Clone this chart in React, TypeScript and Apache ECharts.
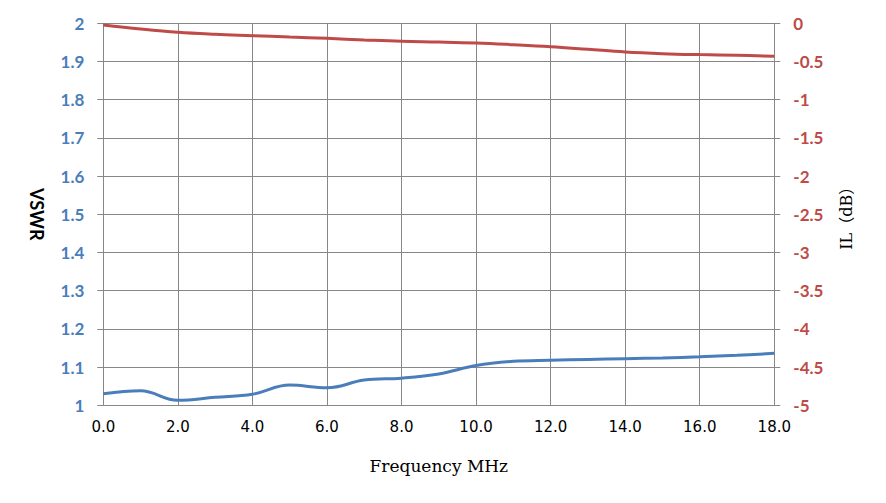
import React, { useEffect, useRef } from "react";
import * as echarts from "echarts";

const freq = [0, 1, 2, 3, 4, 5, 6, 7, 8, 9, 10, 11, 12, 13, 14, 15, 16, 17, 18];
const vswr = [1.03, 1.038, 1.013, 1.021, 1.029, 1.053, 1.046, 1.066, 1.071, 1.082, 1.104, 1.115, 1.118, 1.12, 1.122, 1.124, 1.127, 1.131, 1.136];
const il = [-0.022, -0.075, -0.118, -0.144, -0.162, -0.18, -0.197, -0.218, -0.236, -0.245, -0.258, -0.28, -0.306, -0.34, -0.375, -0.397, -0.41, -0.419, -0.432];

const BLUE = "#4A7EBB";
const RED = "#BE4B48";
const GRID = "#878787";

export default function App() {
  const ref = useRef<HTMLDivElement>(null);
  useEffect(() => {
    if (!ref.current) return;
    const chart = echarts.init(ref.current, null, { renderer: "svg" });
    chart.setOption({
      animation: false,
      backgroundColor: "#ffffff",
      grid: { left: 103.3, right: 111.7, top: 23.3, bottom: 97.7 },
      xAxis: {
        type: "value",
        min: 0,
        max: 18,
        interval: 2,
        name: "Frequency MHz",
        nameLocation: "middle",
        nameGap: 52,
        nameTextStyle: { fontFamily: "DejaVu Serif", fontSize: 17, color: "#000" },
        axisLine: { show: true, lineStyle: { color: GRID, width: 1 } },
        axisTick: { show: true, inside: false, length: 5, lineStyle: { color: GRID } },
        axisLabel: {
          margin: 14,
          fontFamily: "DejaVu Sans",
          fontSize: 15,
          color: "#000",
          formatter: (v: number) => v.toFixed(1),
        },
        splitLine: { show: true, lineStyle: { color: GRID, width: 1 } },
      },
      yAxis: [
        {
          type: "value",
          min: 1,
          max: 2,
          interval: 0.1,
          position: "left",
          name: "VSWR",
          nameLocation: "middle",
          nameRotate: -90,
          nameGap: 57,
          nameTextStyle: { fontFamily: "Lato", fontWeight: "bold", fontSize: 18, color: "#000" },
          axisLine: { show: true, lineStyle: { color: GRID, width: 1 } },
          axisTick: { show: true, inside: false, length: 6, lineStyle: { color: GRID } },
          axisLabel: {
            margin: 19,
            fontFamily: "Lato",
            fontWeight: "bold",
            fontSize: 17,
            color: BLUE,
            formatter: (v: number) => String(Math.round(v * 10) / 10),
          },
          splitLine: { show: true, lineStyle: { color: GRID, width: 1 } },
        },
        {
          type: "value",
          min: -5,
          max: 0,
          interval: 0.5,
          position: "right",
          name: "IL（dB）",
          nameLocation: "middle",
          nameGap: 64,
          nameTextStyle: { fontFamily: "DejaVu Serif, Noto Sans CJK SC", fontSize: 16, color: "#000" },
          axisLine: { show: true, lineStyle: { color: GRID, width: 1 } },
          axisTick: { show: true, inside: false, length: 6, lineStyle: { color: GRID } },
          axisLabel: {
            margin: 19,
            fontFamily: "Lato",
            fontWeight: "bold",
            fontSize: 17,
            color: RED,
            formatter: (v: number) => String(Math.round(v * 10) / 10),
          },
          splitLine: { show: false },
        },
      ],
      series: [
        {
          type: "line",
          yAxisIndex: 0,
          data: freq.map((f, i) => [f, vswr[i]]),
          smooth: 0.4,
          showSymbol: false,
          lineStyle: { color: BLUE, width: 3 },
          itemStyle: { color: BLUE },
        },
        {
          type: "line",
          yAxisIndex: 1,
          data: freq.map((f, i) => [f, il[i]]),
          smooth: 0.4,
          showSymbol: false,
          lineStyle: { color: RED, width: 3 },
          itemStyle: { color: RED },
        },
      ],
    });
    return () => chart.dispose();
  }, []);
  return (
    <div
      ref={ref}
      style={{ position: "fixed", left: 0, top: 0, width: 886, height: 503 }}
    />
  );
}
